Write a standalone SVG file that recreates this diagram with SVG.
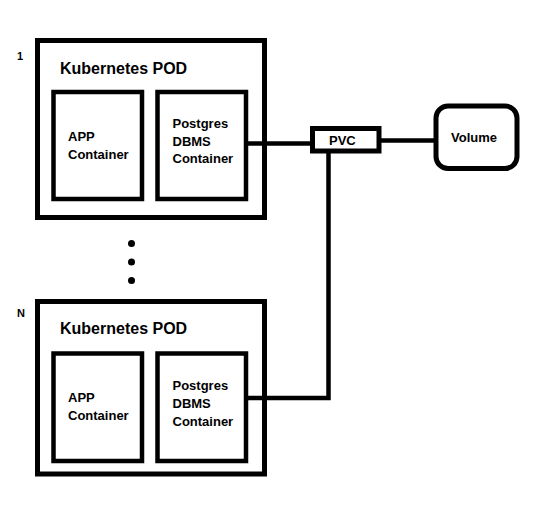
<svg xmlns="http://www.w3.org/2000/svg" width="544" height="530" viewBox="0 0 544 530">
<style>
.box{fill:#fff;stroke:#000;stroke-width:5}
.inner{fill:#fff;stroke:#000;stroke-width:4.5}
.wire{fill:none;stroke:#000;stroke-width:4.5}
text{font-family:"Liberation Sans",Arial,sans-serif;font-weight:bold;fill:#000}
.title{font-size:16px}
.lbl{font-size:13px}
.idx{font-size:11px}
</style>
<rect width="544" height="530" fill="#fff"/>
<g id="pod1">
<rect class="box" x="37.5" y="40.5" width="227" height="177"/>
<text class="idx" x="17" y="60">1</text>
<text class="title" x="60" y="73.5">Kubernetes POD</text>
</g>
<g id="app1">
<rect class="inner" x="53.5" y="92" width="88.5" height="107"/>
<text class="lbl" x="68" y="141">APP</text>
<text class="lbl" x="68" y="159">Container</text>
</g>
<g id="pg1">
<rect class="inner" x="157.5" y="92" width="88.5" height="107"/>
<text class="lbl" x="172.5" y="128">Postgres</text>
<text class="lbl" x="172.5" y="145.5">DBMS</text>
<text class="lbl" x="172.5" y="163">Container</text>
</g>
<g id="dots">
<circle cx="131.5" cy="243.5" r="3.5"/>
<circle cx="131.5" cy="262" r="3.5"/>
<circle cx="131.5" cy="280.5" r="3.5"/>
</g>
<g id="podN">
<rect class="box" x="37.5" y="301.5" width="227" height="172.5"/>
<text class="idx" x="17" y="317">N</text>
<text class="title" x="60" y="333.5">Kubernetes POD</text>
</g>
<g id="appN">
<rect class="inner" x="53.5" y="353.5" width="88.5" height="107.5"/>
<text class="lbl" x="68" y="401.5">APP</text>
<text class="lbl" x="68" y="420">Container</text>
</g>
<g id="pgN">
<rect class="inner" x="157.5" y="353.5" width="88.5" height="107.5"/>
<text class="lbl" x="172.5" y="390">Postgres</text>
<text class="lbl" x="172.5" y="408">DBMS</text>
<text class="lbl" x="172.5" y="426">Container</text>
</g>
<g id="connectors">
<path class="wire" d="M246 143.5H312.5"/>
<path class="wire" d="M379 140.5H436"/>
<path class="wire" d="M328.5 151V398H246"/>
</g>
<g id="pvc">
<rect class="box" x="312.5" y="128.5" width="66.5" height="22.5"/>
<text class="lbl" x="329" y="144.5">PVC</text>
</g>
<g id="volume">
<rect class="box" x="436" y="106" width="81" height="62.5" rx="12"/>
<text class="lbl" x="451" y="141.5">Volume</text>
</g>
</svg>
